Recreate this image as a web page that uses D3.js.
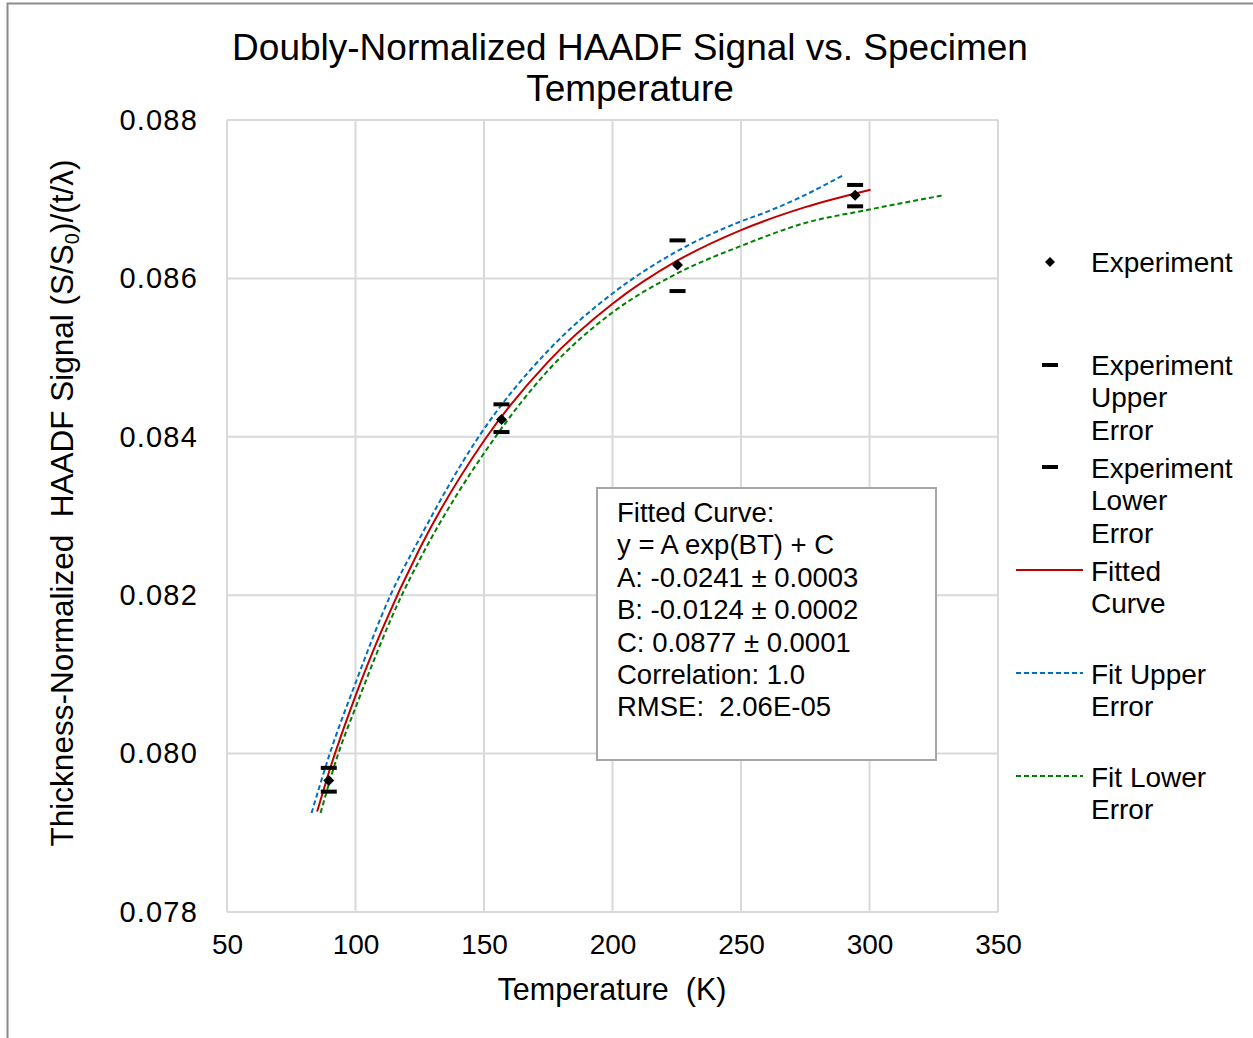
<!DOCTYPE html>
<html>
<head>
<meta charset="utf-8">
<script src="https://cdn.jsdelivr.net/npm/d3@7/dist/d3.min.js"></script>
<style>
  html, body { margin: 0; padding: 0; background: #fff; }
  svg { display: block; }
  text { font-family: "Liberation Sans", Arial, sans-serif; fill: #000; white-space: pre; }
</style>
</head>
<body>
<svg id="chart" width="1253" height="1038"></svg>
<script>
// ---------------- data ----------------
const xTicks = [50, 100, 150, 200, 250, 300, 350];
const yTicks = [0.078, 0.080, 0.082, 0.084, 0.086, 0.088];

const expT     = [89.6, 156.8, 225.3, 294.4];
const expY     = [0.07966, 0.08422, 0.08617, 0.08705];
const expUpper = [0.07982, 0.08441, 0.08648, 0.08718];
const expLower = [0.07952, 0.08406, 0.08584, 0.08691];

const fitT = [85.1, 90, 100, 110, 125, 150, 175, 200, 225, 250, 275, 300.4];
const fitY = [0.07927, 0.07980, 0.08073, 0.08154, 0.08259, 0.08395, 0.08495, 0.08568, 0.08622, 0.08661, 0.08690, 0.08712];

const upperT = [82.9, 90, 100, 113.6, 125, 147.1, 175, 200, 225, 250, 260, 272.8, 289.6];
const upperY = [0.07925, 0.08000, 0.08089, 0.08200, 0.08272, 0.08396, 0.08509, 0.08581, 0.08634, 0.08672, 0.08684, 0.08702, 0.08730];

const lowerT = [86.4, 93.3, 100, 118, 125, 153.6, 175, 200, 225, 250, 275, 300, 328.9];
const lowerY = [0.07925, 0.08000, 0.08058, 0.08200, 0.08245, 0.08396, 0.08484, 0.08557, 0.08606, 0.08641, 0.08670, 0.08687, 0.08705];

const boxLines = [
  "Fitted Curve:",
  "y = A exp(BT) + C",
  "A: -0.0241 \u00B1 0.0003",
  "B: -0.0124 \u00B1 0.0002",
  "C: 0.0877 \u00B1 0.0001",
  "Correlation: 1.0",
  "RMSE:  2.06E-05"
];

// ---------------- layout ----------------
const svg = d3.select("#chart");
const x = d3.scaleLinear().domain([50, 350]).range([227, 998]);
const y = d3.scaleLinear().domain([0.078, 0.088]).range([912, 120]);

// outer chart border (cropped at right / bottom)
svg.append("path")
  .attr("d", "M7.5,1038 L7.5,3.5 L1253,3.5")
  .attr("fill", "none").attr("stroke", "#8c8c8c").attr("stroke-width", 2);

// gridlines
const grid = svg.append("g");
grid.selectAll("line.v").data(xTicks).join("line")
  .attr("x1", d => x(d)).attr("x2", d => x(d))
  .attr("y1", y(0.088)).attr("y2", y(0.078))
  .attr("stroke", "#d9d9d9").attr("stroke-width", 2);
grid.selectAll("line.h").data(yTicks).join("line")
  .attr("y1", d => y(d)).attr("y2", d => y(d))
  .attr("x1", x(50)).attr("x2", x(350))
  .attr("stroke", "#d9d9d9").attr("stroke-width", 2);

// axes (labels only)
const xAxis = d3.axisBottom(x).tickValues(xTicks).tickSize(0).tickPadding(22).tickFormat(d3.format("d"));
const gx = svg.append("g").attr("transform", `translate(0,${y(0.078)})`).call(xAxis);
gx.select(".domain").remove();
gx.selectAll("text").attr("font-size", 28).attr("font-family", "Liberation Sans, Arial, sans-serif").attr("fill", "#000");

const yAxis = d3.axisLeft(y).tickValues(yTicks).tickSize(0).tickPadding(29).tickFormat(d3.format(".3f"));
const gy = svg.append("g").attr("transform", `translate(${x(50)},0)`).call(yAxis);
gy.select(".domain").remove();
gy.selectAll("text").attr("font-size", 29).attr("letter-spacing", 1.2)
  .attr("font-family", "Liberation Sans, Arial, sans-serif").attr("fill", "#000");

// curves
const line = d3.line().x(d => x(d[0])).y(d => y(d[1])).curve(d3.curveMonotoneX);
const zip = (a, b) => a.map((v, i) => [v, b[i]]);

svg.append("path").datum(zip(upperT, upperY)).attr("d", line)
  .attr("fill", "none").attr("stroke", "#0070c0").attr("stroke-width", 2).attr("stroke-dasharray", "5,3");
svg.append("path").datum(zip(lowerT, lowerY)).attr("d", line)
  .attr("fill", "none").attr("stroke", "#008000").attr("stroke-width", 2).attr("stroke-dasharray", "5,3");
svg.append("path").datum(zip(fitT, fitY)).attr("d", line)
  .attr("fill", "none").attr("stroke", "#c00000").attr("stroke-width", 2);

// error bar markers (dash)
const dashW = 16, dashH = 4;
svg.append("g").selectAll("rect").data(zip(expT, expUpper)).join("rect")
  .attr("x", d => x(d[0]) - dashW / 2).attr("y", d => y(d[1]) - dashH / 2)
  .attr("width", dashW).attr("height", dashH).attr("fill", "#000");
svg.append("g").selectAll("rect").data(zip(expT, expLower)).join("rect")
  .attr("x", d => x(d[0]) - dashW / 2).attr("y", d => y(d[1]) - dashH / 2)
  .attr("width", dashW).attr("height", dashH).attr("fill", "#000");

// experiment diamonds
const diamond = s => `M0,${-s} L${s},0 L0,${s} L${-s},0 Z`;
svg.append("g").selectAll("path").data(zip(expT, expY)).join("path")
  .attr("transform", d => `translate(${x(d[0])},${y(d[1])})`)
  .attr("d", diamond(5.5)).attr("fill", "#000");

// text box
svg.append("rect").attr("x", 597).attr("y", 488).attr("width", 339).attr("height", 272)
  .attr("fill", "#fff").attr("stroke", "#a6a6a6").attr("stroke-width", 2);
svg.append("g").selectAll("text").data(boxLines).join("text")
  .attr("x", 617).attr("y", (d, i) => 522 + i * 32.4)
  .attr("font-size", 27.5).text(d => d);

// title
const title = svg.append("text").attr("text-anchor", "middle").attr("font-size", 37);
title.append("tspan").attr("x", 630).attr("y", 60).text("Doubly-Normalized HAADF Signal vs. Specimen");
title.append("tspan").attr("x", 630).attr("y", 101).text("Temperature");

// axis titles
svg.append("text").attr("x", 612).attr("y", 1000).attr("text-anchor", "middle")
  .attr("font-size", 30.5).text("Temperature  (K)");

const yt = svg.append("text").attr("transform", "translate(73,503) rotate(-90)")
  .attr("text-anchor", "middle").attr("font-size", 31.5);
yt.append("tspan").text("Thickness-Normalized  HAADF Signal (S/S");
yt.append("tspan").attr("font-size", 20).attr("dy", 6).text("0");
yt.append("tspan").attr("dy", -6).text(")/(t/\u03BB)");

// legend
const lg = svg.append("g");
const legText = (lines, y0) => {
  lg.append("g").selectAll("text").data(lines).join("text")
    .attr("x", 1091).attr("y", (d, i) => y0 + 10 + i * 32.3)
    .attr("font-size", 28).text(d => d);
};
lg.append("path").attr("transform", "translate(1050,262)").attr("d", diamond(5)).attr("fill", "#000");
legText(["Experiment"], 262);
lg.append("rect").attr("x", 1042).attr("y", 363).attr("width", 16).attr("height", 4).attr("fill", "#000");
legText(["Experiment", "Upper", "Error"], 365);
lg.append("rect").attr("x", 1042).attr("y", 465).attr("width", 16).attr("height", 4).attr("fill", "#000");
legText(["Experiment", "Lower", "Error"], 468);
lg.append("line").attr("x1", 1016).attr("x2", 1083).attr("y1", 570).attr("y2", 570)
  .attr("stroke", "#c00000").attr("stroke-width", 2);
legText(["Fitted", "Curve"], 571);
lg.append("line").attr("x1", 1016).attr("x2", 1083).attr("y1", 673).attr("y2", 673)
  .attr("stroke", "#0070c0").attr("stroke-width", 2).attr("stroke-dasharray", "5,3");
legText(["Fit Upper", "Error"], 674);
lg.append("line").attr("x1", 1016).attr("x2", 1083).attr("y1", 776).attr("y2", 776)
  .attr("stroke", "#008000").attr("stroke-width", 2).attr("stroke-dasharray", "5,3");
legText(["Fit Lower", "Error"], 777);
</script>
</body>
</html>
